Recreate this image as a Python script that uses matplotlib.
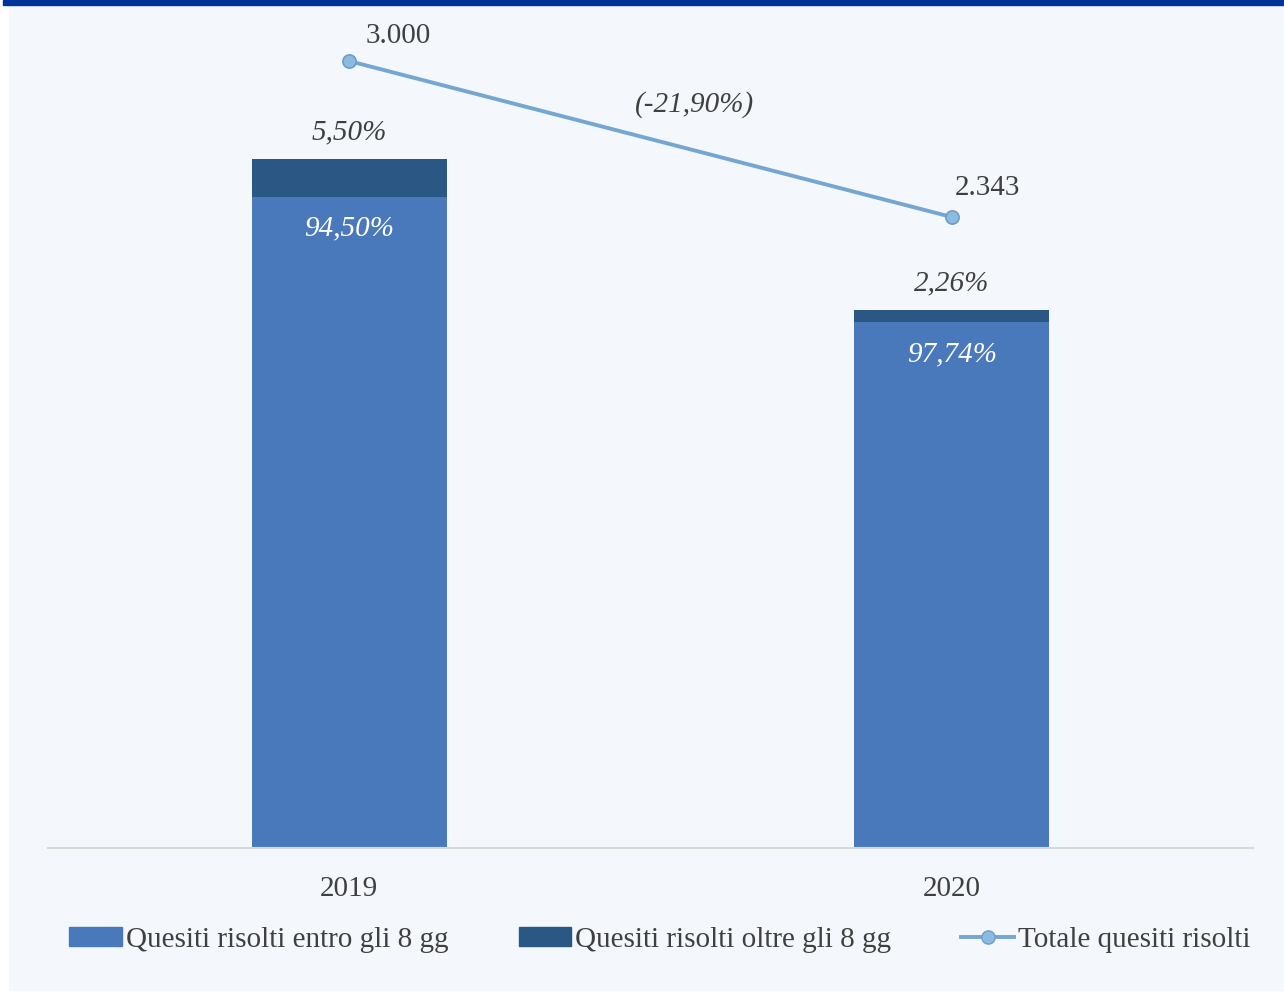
import matplotlib.pyplot as plt
from matplotlib.patches import Rectangle, Patch
from matplotlib.lines import Line2D

# data
anni = ['2019', '2020']
totale = [3000, 2343]
pct_entro = [94.50, 97.74]
pct_oltre = [5.50, 2.26]

entro = [t * p / 100 for t, p in zip(totale, pct_entro)]
oltre = [t * p / 100 for t, p in zip(totale, pct_oltre)]

c_entro = '#4a79bb'
c_oltre = '#2b5784'
c_line = '#75a6d2'
c_text = '#404040'
bg = '#f4f8fc'
fs = 21

plt.rcParams['font.family'] = ['Liberation Serif', 'DejaVu Serif']

fig = plt.figure(figsize=(12.84, 9.94), dpi=100, facecolor='white')
fig.patches.append(Rectangle((9 / 1284, 4 / 994), 1 - 9 / 1284, 1 - 9 / 994,
                             transform=fig.transFigure, color=bg, zorder=-10))
fig.patches.append(Rectangle((3 / 1284, 1 - 5 / 994), 1, 5 / 994,
                             transform=fig.transFigure, color='#003399', zorder=-5))

ax = fig.add_axes([48 / 1284, 1 - 848 / 994, 1205 / 1284, 828 / 994])
ax.set_facecolor('none')
x = list(range(len(anni)))
w = 0.323
ax.bar(x, entro, w, color=c_entro, zorder=2)
ax.bar(x, oltre, w, bottom=entro, color=c_oltre, zorder=2)
ax.set_xlim(-0.5, 1.5)
ax.set_ylim(0, 3605)
ax.set_yticks([])
for s in ['top', 'right', 'left']:
    ax.spines[s].set_visible(False)
ax.spines['bottom'].set_color('#d9d9d9')
ax.spines['bottom'].set_linewidth(1.5)
ax.set_xticks(x)
ax.set_xticklabels(anni, fontsize=fs, color=c_text)
ax.tick_params(axis='x', length=0, pad=20)

fmt = lambda v: f'{v:.2f}'.replace('.', ',') + '%'
for i in x:
    ax.annotate(fmt(pct_oltre[i]), (i, totale[i]), xytext=(0, 19), textcoords='offset points',
                ha='center', va='center', fontsize=fs, style='italic', color=c_text)
    ax.annotate(fmt(pct_entro[i]), (i, entro[i]), xytext=(0, -23), textcoords='offset points',
                ha='center', va='center', fontsize=fs, style='italic', color='white')

ax2 = ax.twinx()
ax2.set_ylim(-315, 3173)
ax2.axis('off')
ax2.plot(x, totale, color=c_line, lw=2.8, marker='o', ms=9.5,
         mfc='#8cbbe2', mec='#6c9dc9', mew=1.2, zorder=3)
offs = [(35, 18), (26, 21)]
for i in x:
    ax2.annotate(f'{totale[i]:,}'.replace(',', '.'), (i, totale[i]), xytext=offs[i],
                 textcoords='offset points', ha='center', va='center',
                 fontsize=fs, color=c_text)
var = (totale[1] - totale[0]) / totale[0] * 100
ax2.annotate('(' + fmt(var) + ')', (0.5, sum(totale) / 2), xytext=(32, 25),
             textcoords='offset points', ha='center', va='center',
             fontsize=fs, style='italic', color=c_text)

handles = [Patch(color=c_entro), Patch(color=c_oltre),
           Line2D([], [], color=c_line, lw=2.8, marker='o', ms=9.5, mfc='#8cbbe2', mec='#6c9dc9')]
labels = ['Quesiti risolti entro gli 8 gg', 'Quesiti risolti oltre gli 8 gg', 'Totale quesiti risolti']
fig.legend(handles, labels, loc='center', bbox_to_anchor=(0.514, 1 - 940 / 994), ncol=3,
           frameon=False, fontsize=fs, handlelength=1.8, handleheight=0.6, handletextpad=0.15,
           columnspacing=2.4, labelcolor=c_text)

fig.savefig('out.png', dpi=100, facecolor=fig.get_facecolor())
